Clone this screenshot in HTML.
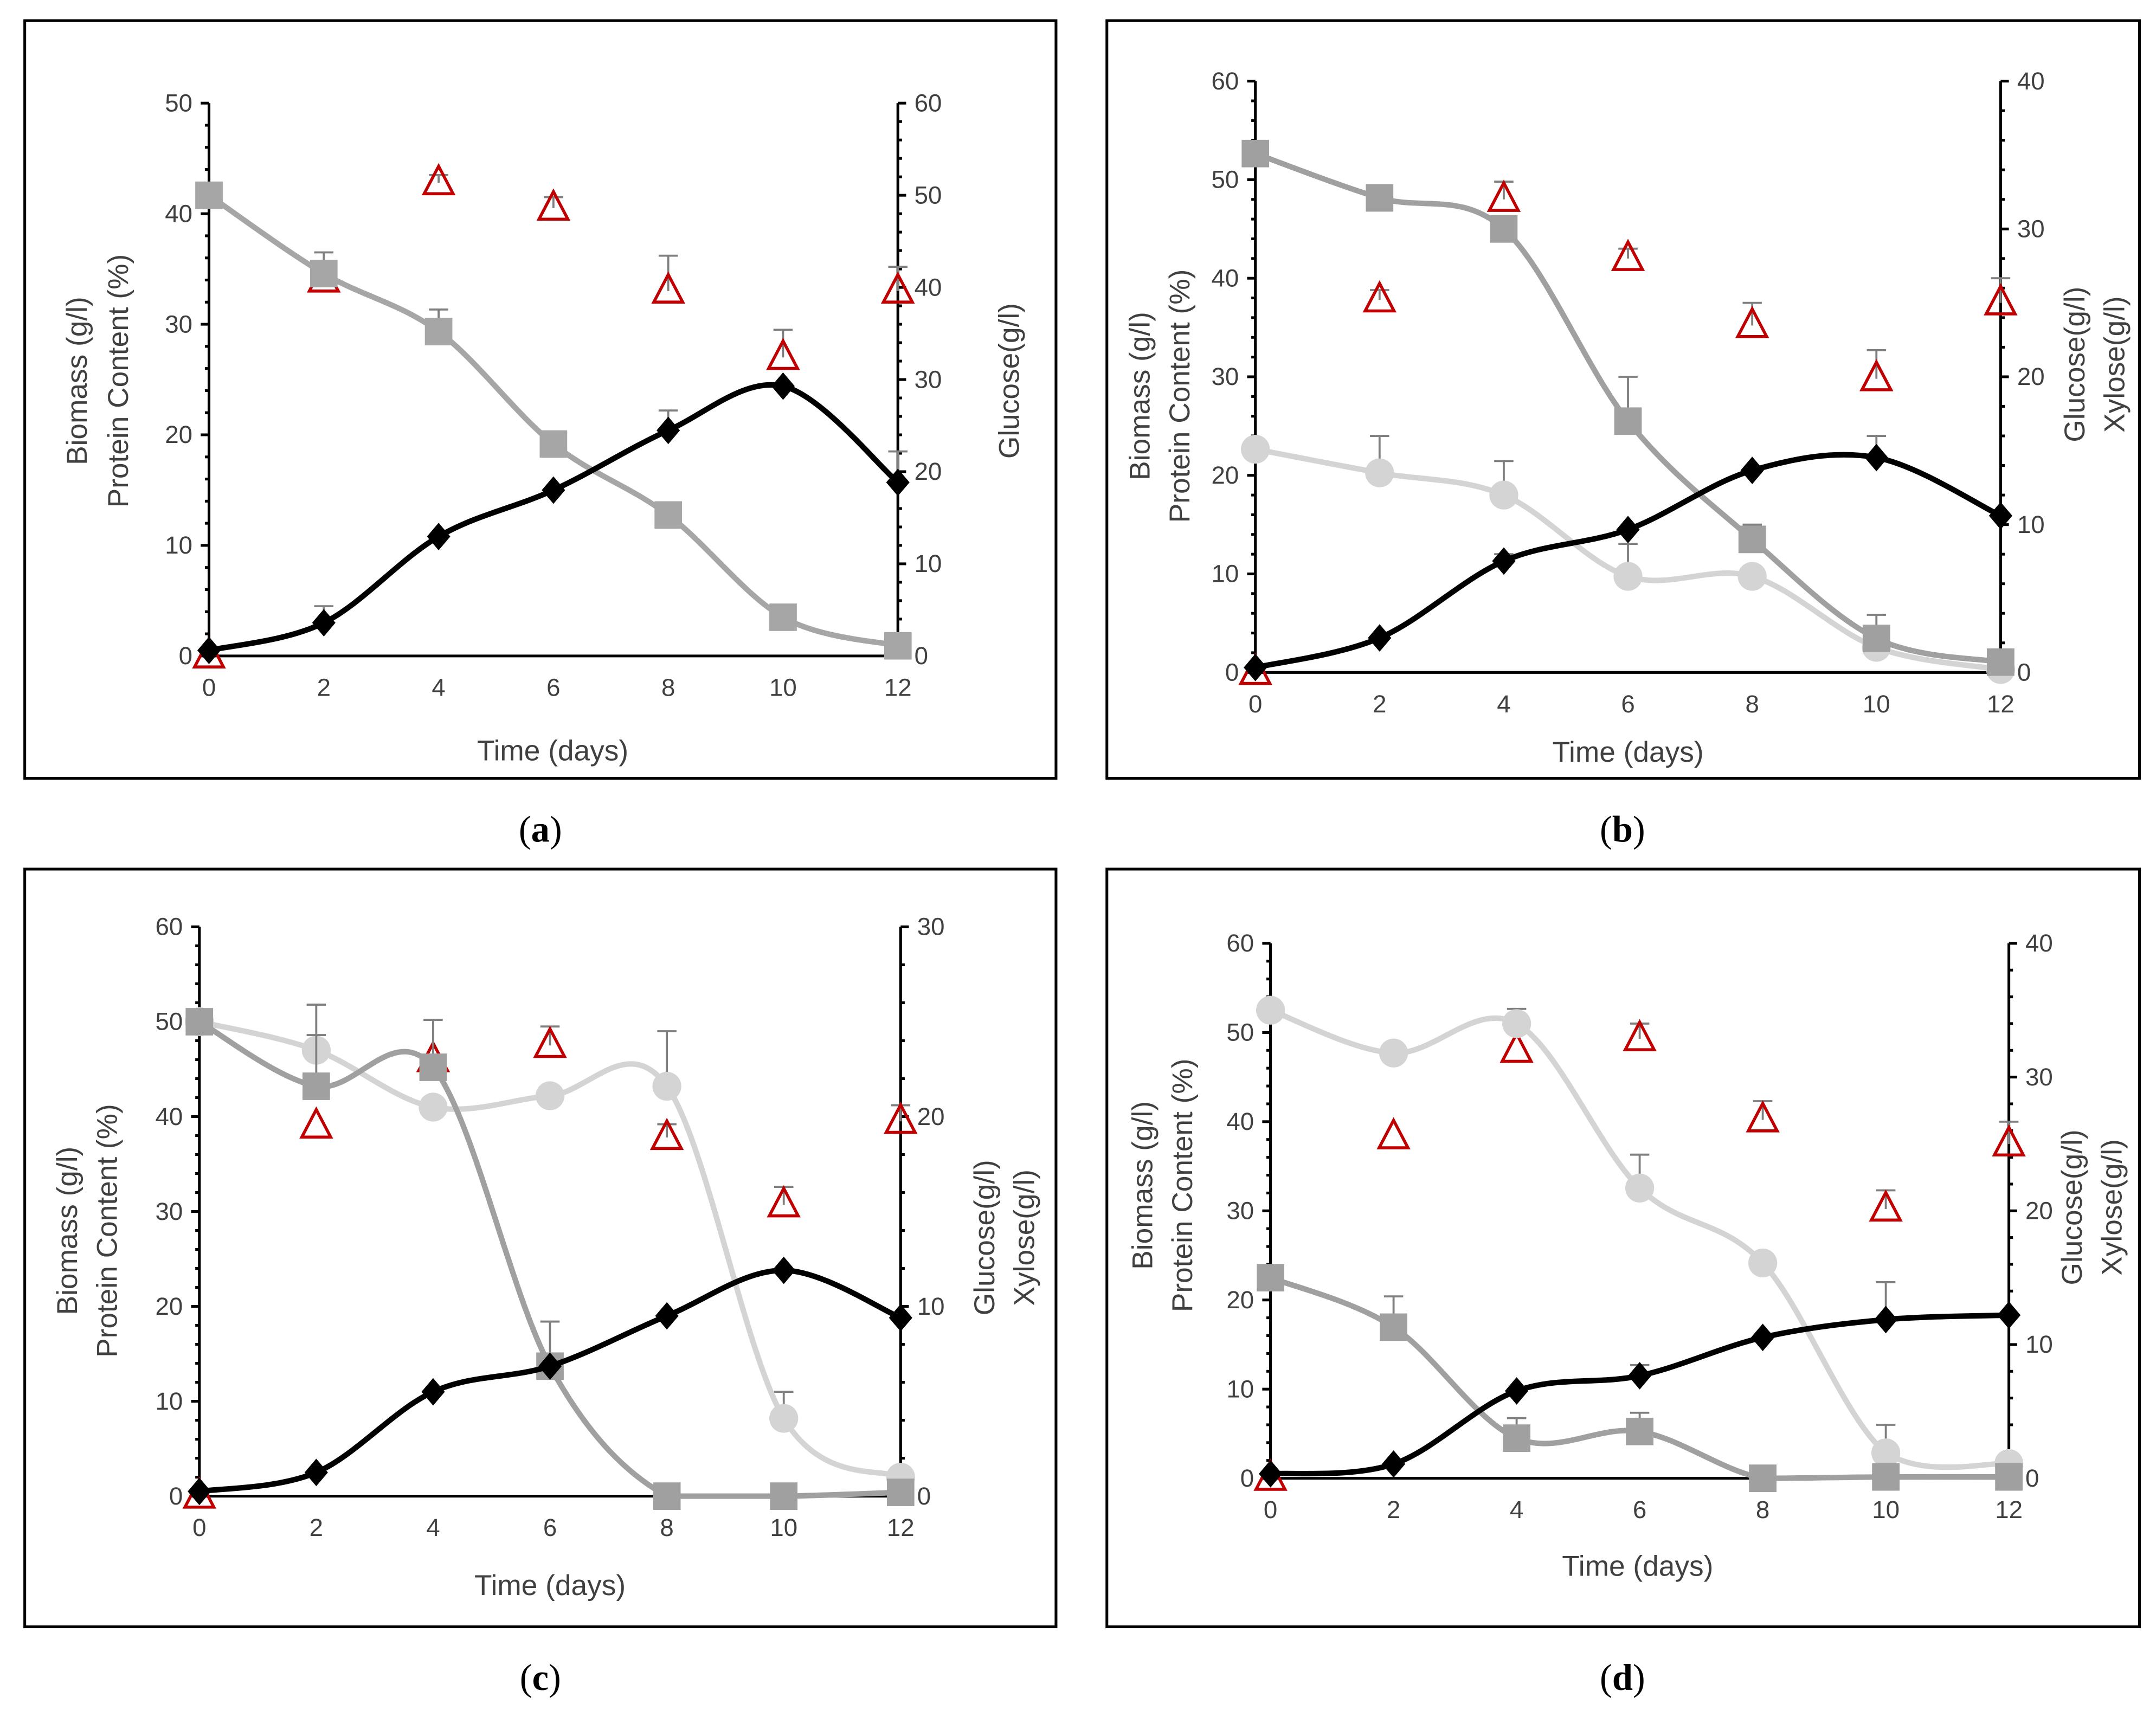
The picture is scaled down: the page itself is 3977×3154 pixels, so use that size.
<!DOCTYPE html>
<html><head><meta charset="utf-8">
<style>
html,body{margin:0;padding:0;background:#fff;}
svg{display:block;}
text{font-family:"Liberation Sans",sans-serif;}
</style></head>
<body>
<svg id="fig" xmlns="http://www.w3.org/2000/svg" width="3977" height="3154" viewBox="0 0 1568 1243.5" preserveAspectRatio="none"></svg>
<script>
const days = [0,2,4,6,8,10,12];
// Panel a
const aBiomass = [0.5,3,10.8,15,20.4,24.4,15.7];
const aGlucose = [50,41.5,35.2,23,15.3,4.2,1.1];
const aProtein = [0,34,42.8,40.5,33,27,33];
// Panel b
const bBiomass = [0.5,3.5,11.3,14.5,20.5,21.8,15.9];
const bGlucose = [35.1,32.1,30,17,9,2.3,0.7];
const bXylose = [15.1,13.5,12,6.5,6.5,1.7,0.2];
const bProtein = [0,37.8,48,42,35.2,29.8,37.5];
// Panel c
const cBiomass = [0.5,2.5,11,13.7,19,23.8,18.8];
const cGlucose = [25,21.6,22.6,6.85,0,0,0.2];
const cXylose = [25,23.5,20.5,21.1,21.6,4.1,1];
const cProtein = [0,39,46,47.5,37.8,30.7,39.5];
// Panel d
const dBiomass = [0.5,1.6,9.8,11.5,15.8,17.8,18.3];
const dGlucose = [15,11.3,3,3.5,0,0.1,0.1];
const dXylose = [35,31.8,34,21.7,16.1,1.9,1.1];
const dProtein = [0,38.3,48,49.3,40.2,30.2,37.5];
// error-bar tops (null = none)
const aBiomassErr = [null,4.5,null,null,22.2,null,18.5];
const aGlucoseErr = [null,43.8,37.6,null,null,null,null];
const aProteinErr = [null,null,43.5,41.5,36.2,29.5,35.2];
const bBiomassErr = [null,null,12,null,null,24,null];
const bGlucoseErr = [null,null,null,20,10,3.9,null];
const bXyloseErr = [null,16,14.3,8.7,null,null,null];
const bProteinErr = [null,38.8,49.8,43,37.5,32.7,40];
const cBiomassErr = [null,null,null,null,null,null,null];
const cGlucoseErr = [null,24.3,25.1,9.2,null,null,null];
const cXyloseErr = [null,25.9,null,null,24.5,5.5,null];
const cProteinErr = [null,null,null,49.5,39.2,32.6,41.2];
const dBiomassErr = [null,null,null,12.7,null,22,null];
const dGlucoseErr = [null,13.6,4.5,4.9,null,null,null];
const dXyloseErr = [null,null,35.1,24.2,null,4,null];
const dProteinErr = [null,null,null,51,42.3,32.3,40];

const NS="http://www.w3.org/2000/svg";
const svg=document.getElementById('fig');
function mk(tag,attrs,parent){const e=document.createElementNS(NS,tag);for(const k in attrs)e.setAttribute(k,attrs[k]);(parent||svg).appendChild(e);return e;}
function smooth(pts,ymax){let d=`M${pts[0][0]},${pts[0][1]}`;const t=1/6;
  for(let i=0;i<pts.length-1;i++){const p0=pts[Math.max(0,i-1)],p1=pts[i],p2=pts[i+1],p3=pts[Math.min(pts.length-1,i+2)];
    const c1=[p1[0]+(p2[0]-p0[0])*t,Math.min(ymax,p1[1]+(p2[1]-p0[1])*t)];
    const c2=[p2[0]-(p3[0]-p1[0])*t,Math.min(ymax,p2[1]-(p3[1]-p1[1])*t)];
    d+=` C${c1[0]},${c1[1]} ${c2[0]},${c2[1]} ${p2[0]},${p2[1]}`;}return d;}

function panel(cfg){
  const g=mk('g',{});
  
  
  const fr=mk('rect',{x:cfg.box[0],y:cfg.box[1],width:cfg.box[2]-cfg.box[0],height:cfg.box[3]-cfg.box[1],fill:'none',stroke:'#000','stroke-width':2},g);
  
  const X=v=>cfg.x0+(cfg.x1-cfg.x0)*v/12;
  const YL=v=>cfg.y0-(cfg.y0-cfg.yt)*v/cfg.lmax;
  const YR=v=>cfg.y0-(cfg.y0-cfg.yt)*v/cfg.rmax;
  const ax=mk('g',{stroke:'#000','stroke-width':2},g);
  mk('line',{x1:X(0),y1:cfg.y0,x2:X(0),y2:cfg.yt},ax);
  mk('line',{x1:X(12),y1:cfg.y0,x2:X(12),y2:cfg.yt},ax);
  mk('line',{x1:X(0),y1:cfg.y0,x2:X(12),y2:cfg.y0},ax);
  const lstep=10,rstep=10;
  for(let v=0;v<=cfg.lmax+1e-9;v+=lstep/5){const maj=Math.abs(v/lstep-Math.round(v/lstep))<1e-6;mk('line',{x1:X(0)-(maj?6:3),y1:YL(v),x2:X(0),y2:YL(v)},ax);}
  for(let v=0;v<=cfg.rmax+1e-9;v+=rstep/5){const maj=Math.abs(v/rstep-Math.round(v/rstep))<1e-6;mk('line',{x1:X(12),y1:YR(v),x2:X(12)+(maj?6:3),y2:YR(v)},ax);}
  const tl=mk('g',{fill:'#404040','font-size':18},g);
  for(let v=0;v<=cfg.lmax;v+=lstep){const t=mk('text',{x:X(0)-12,y:YL(v)+6,'text-anchor':'end'},tl);t.textContent=v;}
  for(let v=0;v<=cfg.rmax;v+=rstep){const t=mk('text',{x:X(12)+12,y:YR(v)+6,'text-anchor':'start'},tl);t.textContent=v;}
  days.forEach(d=>{const t=mk('text',{x:X(d),y:cfg.y0+29,'text-anchor':'middle'},tl);t.textContent=d;});
  const tt=mk('g',{fill:'#404040','font-size':21,'text-anchor':'middle'},g);
  const xt=mk('text',{x:cfg.xt[0],y:cfg.xt[1]},tt);xt.textContent='Time (days)';
  cfg.ltitles.forEach(o=>{const t=mk('text',{transform:`translate(${o[0]},${o[1]}) rotate(-90)`},tt);t.textContent=o[2];});
  cfg.rtitles.forEach(o=>{const t=mk('text',{transform:`translate(${o[0]},${o[1]}) rotate(-90)`},tt);t.textContent=o[2];});
  const lab=mk('text',{x:cfg.lab[0],y:cfg.lab[1],'text-anchor':'middle','font-size':27,fill:'#000',style:'font-family:"Liberation Serif",serif'},g);
  
  lab.innerHTML=`(<tspan font-weight="bold">${cfg.letter}</tspan>)`;
  function errs(arr,vals,Y,name){const e=mk('g',{stroke:'#7f7f7f','stroke-width':1.5},g);arr.forEach((v,i)=>{if(v==null)return;mk('line',{x1:X(days[i]),y1:Y(vals[i]),x2:X(days[i]),y2:Y(v)},e);mk('line',{x1:X(days[i])-7,y1:Y(v),x2:X(days[i])+7,y2:Y(v)},e);});}
  errs(cfg.proteinErr,cfg.protein,YL,'protein-error-bars');
  const tg=mk('g',{},g);
  cfg.protein.forEach((v,i)=>{const x=X(days[i]),y=YL(v);const p=mk('polygon',{points:`${x},${y-12} ${x-10.5},${y+8} ${x+10.5},${y+8}`,fill:'none',stroke:'#c00000','stroke-width':2.2},tg);});
  function series(vals,Y,color,shape,name,errArr){
    if(errArr)errs(errArr,vals,Y,name+'-error-bars');
    const sg=mk('g',{},g);
    const pts=vals.map((v,i)=>[X(days[i]),Y(v)]);
    const ln=mk('path',{d:smooth(pts,cfg.y0),fill:'none',stroke:color,'stroke-width':4,'stroke-linecap':'round'},sg);
    pts.forEach(p=>{let m;
      if(shape==='sq')m=mk('rect',{x:p[0]-10,y:p[1]-10,width:20,height:20,fill:color},sg);
      else if(shape==='ci')m=mk('circle',{cx:p[0],cy:p[1],r:10.5,fill:color},sg);
      else m=mk('polygon',{points:`${p[0]},${p[1]-10} ${p[0]+8.5},${p[1]} ${p[0]},${p[1]+10} ${p[0]-8.5},${p[1]}`,fill:color},sg);
      });
  }
  if(cfg.xylose)series(cfg.xylose,YR,'#d4d4d4','ci','xylose',cfg.xyloseErr);
  series(cfg.glucose,YR,cfg.gcolor,'sq','glucose',cfg.glucoseErr);
  series(cfg.biomass,YL,'#000','di','biomass',cfg.biomassErr);
}

panel({name:'panel-a',letter:'a',box:[18,15,768,566],x0:152,x1:653,y0:477,yt:75,lmax:50,rmax:60,
  xt:[402,553],ltitles:[[63,277,'Biomass (g/l)'],[93,277,'Protein Content (%)']],rtitles:[[741,277,'Glucose(g/l)']],lab:[393,612],
  biomass:aBiomass,glucose:aGlucose,protein:aProtein,biomassErr:aBiomassErr,glucoseErr:aGlucoseErr,proteinErr:aProteinErr,gcolor:'#a6a6a6'});
panel({name:'panel-b',letter:'b',box:[805,15,1556,566],x0:913,x1:1455,y0:489,yt:59,lmax:60,rmax:40,
  xt:[1184,554],ltitles:[[836,288,'Biomass (g/l)'],[865,288,'Protein Content (%)']],rtitles:[[1516,265,'Glucose(g/l)'],[1545,265,'Xylose(g/l)']],lab:[1180,612],
  biomass:bBiomass,glucose:bGlucose,xylose:bXylose,protein:bProtein,biomassErr:bBiomassErr,glucoseErr:bGlucoseErr,xyloseErr:bXyloseErr,proteinErr:bProteinErr,gcolor:'#a0a0a0'});
panel({name:'panel-c',letter:'c',box:[18,632,768,1183],x0:145,x1:655,y0:1088,yt:674,lmax:60,rmax:30,
  xt:[400,1160],ltitles:[[56,895,'Biomass (g/l)'],[85,895,'Protein Content (%)']],rtitles:[[723,900,'Glucose(g/l)'],[752,900,'Xylose(g/l)']],lab:[393,1229],
  biomass:cBiomass,glucose:cGlucose,xylose:cXylose,protein:cProtein,biomassErr:cBiomassErr,glucoseErr:cGlucoseErr,xyloseErr:cXyloseErr,proteinErr:cProteinErr,gcolor:'#a0a0a0'});
panel({name:'panel-d',letter:'d',box:[805,632,1556,1183],x0:924,x1:1461,y0:1075,yt:686,lmax:60,rmax:40,
  xt:[1191,1146],ltitles:[[838,862,'Biomass (g/l)'],[867,862,'Protein Content (%)']],rtitles:[[1514,878,'Glucose(g/l)'],[1543,878,'Xylose(g/l)']],lab:[1180,1229],
  biomass:dBiomass,glucose:dGlucose,xylose:dXylose,protein:dProtein,biomassErr:dBiomassErr,glucoseErr:dGlucoseErr,xyloseErr:dXyloseErr,proteinErr:dProteinErr,gcolor:'#a0a0a0'});
</script>
</body></html>
